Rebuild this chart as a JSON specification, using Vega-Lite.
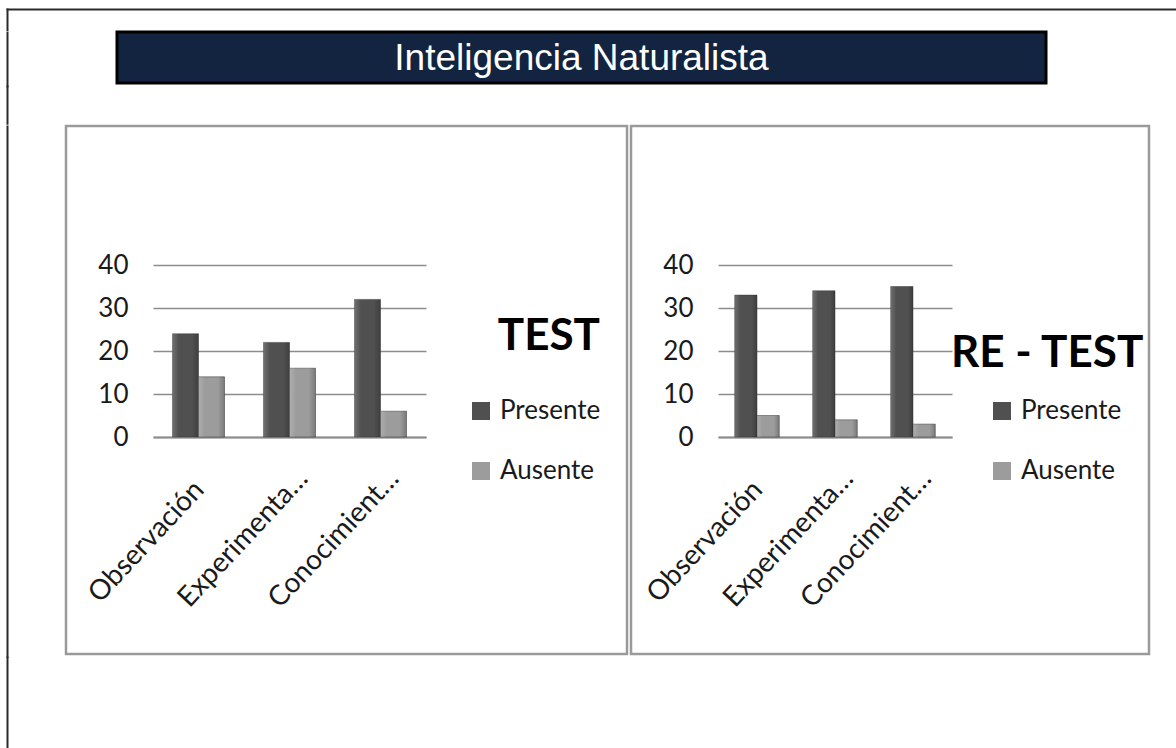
{
  "$schema": "https://vega.github.io/schema/vega-lite/v6.json",
  "background": "white",
  "padding": {"left": 7, "top": 9, "right": 0, "bottom": 0},
  "config": {"view": {"stroke": null}},
  "datasets": {
    "test": [
      {"categoria": "Observación", "serie": "Presente", "valor": 24},
      {"categoria": "Observación", "serie": "Ausente", "valor": 14},
      {"categoria": "Experimentación", "serie": "Presente", "valor": 22},
      {"categoria": "Experimentación", "serie": "Ausente", "valor": 16},
      {"categoria": "Conocimiento del entorno", "serie": "Presente", "valor": 32},
      {"categoria": "Conocimiento del entorno", "serie": "Ausente", "valor": 6}
    ],
    "retest": [
      {"categoria": "Observación", "serie": "Presente", "valor": 33},
      {"categoria": "Observación", "serie": "Ausente", "valor": 5},
      {"categoria": "Experimentación", "serie": "Presente", "valor": 34},
      {"categoria": "Experimentación", "serie": "Ausente", "valor": 4},
      {"categoria": "Conocimiento del entorno", "serie": "Presente", "valor": 35},
      {"categoria": "Conocimiento del entorno", "serie": "Ausente", "valor": 3}
    ],
    "titulo": [{"t": "Inteligencia Naturalista"}],
    "vacio": []
  },
  "spacing": 0,
  "vconcat": [
    {
      "width": 1172, "height": 20.5,
      "data": {"name": "vacio"},
      "mark": "point",
      "encoding": {
        "x": {"field": "v", "type": "quantitative", "scale": {"domain": [0, 1]}, "axis": {"orient": "top", "title": null, "labels": false, "ticks": false, "grid": false, "domainColor": "#2a2a2a", "domainWidth": 2, "domainCap": "square", "minExtent": 0, "maxExtent": 0}},
        "y": {"field": "v", "type": "quantitative", "scale": {"domain": [0, 1]}, "axis": {"orient": "left", "title": null, "labels": false, "ticks": false, "grid": false, "domainColor": "#2a2a2a", "domainWidth": 2, "domainCap": "square", "minExtent": 0, "maxExtent": 0}}
      }
    },
    {
      "spacing": 0,
      "hconcat": [
        {
          "width": 107.5, "height": 54,
          "data": {"name": "vacio"},
          "mark": "point",
          "encoding": {
            "y": {"field": "v", "type": "quantitative", "scale": {"domain": [0, 1]}, "axis": {"orient": "left", "title": null, "labels": false, "ticks": false, "grid": false, "domainColor": "#2a2a2a", "domainWidth": 2, "domainCap": "square", "minExtent": 0, "maxExtent": 0}}
          }
        },
        {
          "width": 929, "height": 51,
          "view": {"fill": "#12243f", "stroke": "#000000", "strokeWidth": 3},
          "data": {"name": "titulo"},
          "mark": {"type": "text", "color": "white", "font": "Liberation Sans", "fontSize": 37, "align": "center", "baseline": "middle", "dy": 1},
          "encoding": {"text": {"field": "t"}}
        }
      ]
    },
    {
      "width": 57, "height": 37.25,
      "data": {"name": "vacio"},
      "mark": "point",
      "encoding": {
        "y": {"field": "v", "type": "quantitative", "scale": {"domain": [0, 1]}, "axis": {"orient": "left", "title": null, "labels": false, "ticks": false, "grid": false, "domainColor": "#2a2a2a", "domainWidth": 2, "domainCap": "square", "minExtent": 0, "maxExtent": 0}}
      }
    },
    {
      "spacing": 0,
      "resolve": {"scale": {"x": "independent", "y": "independent", "xOffset": "independent", "color": "independent"}, "legend": {"color": "independent"}},
      "hconcat": [
        {
          "width": 57, "height": 530.5,
          "data": {"name": "vacio"},
          "mark": "point",
          "encoding": {
            "y": {"field": "v", "type": "quantitative", "scale": {"domain": [0, 1]}, "axis": {"orient": "left", "title": null, "labels": false, "ticks": false, "grid": false, "domainColor": "#2a2a2a", "domainWidth": 2, "domainCap": "square", "minExtent": 0, "maxExtent": 0}}
          }
        },
        {
          "width": 561, "height": 528,
          "view": {"stroke": "#9a9a9a", "strokeWidth": 2.5, "fill": "white"},
          "data": {"name": "test"},
          "encoding": {
            "x": {"field": "categoria", "type": "nominal", "sort": null,
              "scale": {"range": [87, 360], "paddingInner": 0, "paddingOuter": 0},
              "axis": {"title": null, "orient": "bottom", "offset": -217, "domainColor": "#8c8c8c", "domainWidth": 2, "ticks": false, "tickSize": 0,
                "labelAngle": -47, "labelAlign": "right", "labelBaseline": "middle", "labelFont": "Lato", "labelFontSize": 28, "labelColor": "#1a1a1a", "labelLimit": 0,
                "labelPadding": {"condition": {"test": "datum.value == 'Observación'", "value": 48}, "value": 37},
                "labelOffset": {"condition": {"test": "datum.value == 'Observación'", "value": 1}, "value": 14},
                "labelExpr": "length(datum.label) > 11 ? slice(datum.label, 0, 11) + '…' : datum.label"}},
            "xOffset": {"field": "serie", "type": "nominal", "sort": ["Presente", "Ausente"], "scale": {"paddingOuter": 0.75, "paddingInner": 0}},
            "y": {"field": "valor", "type": "quantitative",
              "scale": {"domain": [0, 40], "range": [311, 139], "nice": false, "zero": true},
              "axis": {"title": null, "orient": "left", "offset": -87, "values": [0, 10, 20, 30, 40], "domain": false, "ticks": false, "labelPadding": 25, "labelFont": "Lato", "labelFontSize": 26, "labelColor": "#1a1a1a", "grid": true, "gridColor": "#8c8c8c", "gridWidth": 1.5}}
          },
          "layer": [
            {
              "mark": {"type": "bar", "stroke": "#3a3a3a", "strokeWidth": 0.5},
              "encoding": {
                "color": {"field": "serie", "type": "nominal", "sort": ["Presente", "Ausente"],
                  "scale": {"domain": ["Presente", "Ausente"], "range": ["#505050", "#9c9c9c"]},
                  "legend": {"title": "TEST", "orient": "none", "legendX": 402, "legendY": 189, "titleFont": "Lato", "titleFontSize": 44, "titleFontWeight": "bold", "titleColor": "#000000", "titleAnchor": "end", "titleLimit": 400, "titlePadding": 39,
                    "symbolType": "square", "symbolSize": 324, "symbolStrokeWidth": 0, "labelFont": "Lato", "labelFontSize": 26, "labelColor": "#1a1a1a", "labelOffset": 6, "rowPadding": 34, "labelLimit": 300}}
              }
            },
            {
              "mark": {"type": "bar", "fill": {"gradient": "linear", "x1": 0, "x2": 1, "y1": 0, "y2": 0,
                "stops": [
                  {"offset": 0, "color": "rgba(255,255,255,0.18)"},
                  {"offset": 0.25, "color": "rgba(255,255,255,0.0)"},
                  {"offset": 0.75, "color": "rgba(0,0,0,0.0)"},
                  {"offset": 1, "color": "rgba(0,0,0,0.22)"}
                ]}}
            }
          ]
        },
        {
          "width": 518, "height": 528,
          "view": {"stroke": "#9a9a9a", "strokeWidth": 2.5, "fill": "white"},
          "data": {"name": "retest"},
          "encoding": {
            "x": {"field": "categoria", "type": "nominal", "sort": null,
              "scale": {"range": [87, 321], "paddingInner": 0, "paddingOuter": 0},
              "axis": {"title": null, "orient": "bottom", "offset": -217, "domainColor": "#8c8c8c", "domainWidth": 2, "ticks": false, "tickSize": 0,
                "labelAngle": -47, "labelAlign": "right", "labelBaseline": "middle", "labelFont": "Lato", "labelFontSize": 28, "labelColor": "#1a1a1a", "labelLimit": 0,
                "labelPadding": {"condition": {"test": "datum.value == 'Observación'", "value": 48}, "value": 37},
                "labelOffset": {"condition": {"test": "datum.value == 'Observación'", "value": 1}, "value": 14},
                "labelExpr": "length(datum.label) > 11 ? slice(datum.label, 0, 11) + '…' : datum.label"}},
            "xOffset": {"field": "serie", "type": "nominal", "sort": ["Presente", "Ausente"], "scale": {"paddingOuter": 0.75, "paddingInner": 0}},
            "y": {"field": "valor", "type": "quantitative",
              "scale": {"domain": [0, 40], "range": [311, 139], "nice": false, "zero": true},
              "axis": {"title": null, "orient": "left", "offset": -87, "values": [0, 10, 20, 30, 40], "domain": false, "ticks": false, "labelPadding": 25, "labelFont": "Lato", "labelFontSize": 26, "labelColor": "#1a1a1a", "grid": true, "gridColor": "#8c8c8c", "gridWidth": 1.5}}
          },
          "layer": [
            {
              "mark": {"type": "bar", "stroke": "#3a3a3a", "strokeWidth": 0.5},
              "encoding": {
                "color": {"field": "serie", "type": "nominal", "sort": ["Presente", "Ausente"],
                  "scale": {"domain": ["Presente", "Ausente"], "range": ["#505050", "#9c9c9c"]},
                  "legend": {"title": "RE - TEST", "orient": "none", "legendX": 320, "legendY": 206, "titleFont": "Lato", "titleFontSize": 44, "titleFontWeight": "bold", "titleColor": "#000000", "titleAnchor": "start", "titleLimit": 400, "titlePadding": 22,
                    "symbolType": "square", "symbolSize": 324, "symbolStrokeWidth": 0, "symbolOffset": 38, "labelFont": "Lato", "labelFontSize": 26, "labelColor": "#1a1a1a", "labelOffset": 6, "rowPadding": 34, "labelLimit": 300}}
              }
            },
            {
              "mark": {"type": "bar", "fill": {"gradient": "linear", "x1": 0, "x2": 1, "y1": 0, "y2": 0,
                "stops": [
                  {"offset": 0, "color": "rgba(255,255,255,0.18)"},
                  {"offset": 0.25, "color": "rgba(255,255,255,0.0)"},
                  {"offset": 0.75, "color": "rgba(0,0,0,0.0)"},
                  {"offset": 1, "color": "rgba(0,0,0,0.22)"}
                ]}}
            }
          ]
        }
      ]
    },
    {
      "width": 57, "height": 100,
      "data": {"name": "vacio"},
      "mark": "point",
      "encoding": {
        "y": {"field": "v", "type": "quantitative", "scale": {"domain": [0, 1]}, "axis": {"orient": "left", "title": null, "labels": false, "ticks": false, "grid": false, "domainColor": "#2a2a2a", "domainWidth": 2, "domainCap": "square", "minExtent": 0, "maxExtent": 0}}
      }
    }
  ]
}
